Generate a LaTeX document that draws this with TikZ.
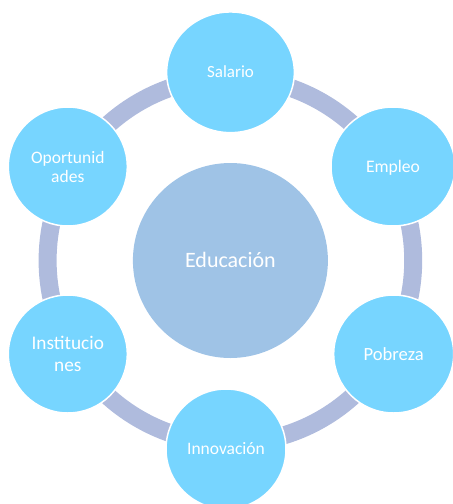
\documentclass[tikz,border=0pt]{standalone}
\usepackage{fontspec}
\setmainfont{Carlito}
\usetikzlibrary{shapes.geometric}
\definecolor{ringc}{HTML}{AFBBDD}
\definecolor{nodec}{HTML}{77D5FF}
\definecolor{hubc}{HTML}{9FC3E6}
\begin{document}
\begin{tikzpicture}[x=1pt,y=-1pt,
  sat/.style={ellipse, fill=nodec, draw=white, line width=1.5pt, inner sep=0pt,
    text=white, align=center, text depth=0pt},
  hub/.style={circle, fill=hubc, inner sep=0pt, minimum size=195pt, text=white,
    font=\fontsize{22}{26}\selectfont, text height=14.2pt, text depth=0pt},
  ring/.style={draw=ringc, line width=18pt}]
\useasboundingbox (0,0) rectangle (453,504);
\node[hub] (edu) at (230.4,260.5) {Educación};
\draw[ring] (edu.center) circle[radius=182.8];
\node[sat, minimum width=127.7pt, minimum height=120.7pt,
  font=\fontsize{17}{20}\selectfont, text height=10.95pt] (sal) at (230.5,72.3) {Salario};
\node[sat, minimum width=124pt, minimum height=119pt,
  font=\fontsize{17.6}{21}\selectfont, text height=11.3pt] (emp) at (393,166.5) {Empleo};
\node[sat, minimum width=120pt, minimum height=118pt,
  font=\fontsize{18.6}{22}\selectfont, text height=12pt] (pob) at (393.7,354) {Pobreza};
\node[sat, minimum width=120pt, minimum height=120pt,
  font=\fontsize{17.5}{21}\selectfont, text height=11.3pt] (inn) at (226,449) {Innovación};
\node[sat, minimum width=119pt, minimum height=118pt,
  font=\fontsize{19.3}{21.4}\selectfont] (ins) at (67.8,354) {Institucio\\nes};
\node[sat, minimum width=119pt, minimum height=119pt,
  font=\fontsize{17.5}{19}\selectfont] (opo) at (67.8,166.5) {Oportunid\\ades};
\end{tikzpicture}
\end{document}
